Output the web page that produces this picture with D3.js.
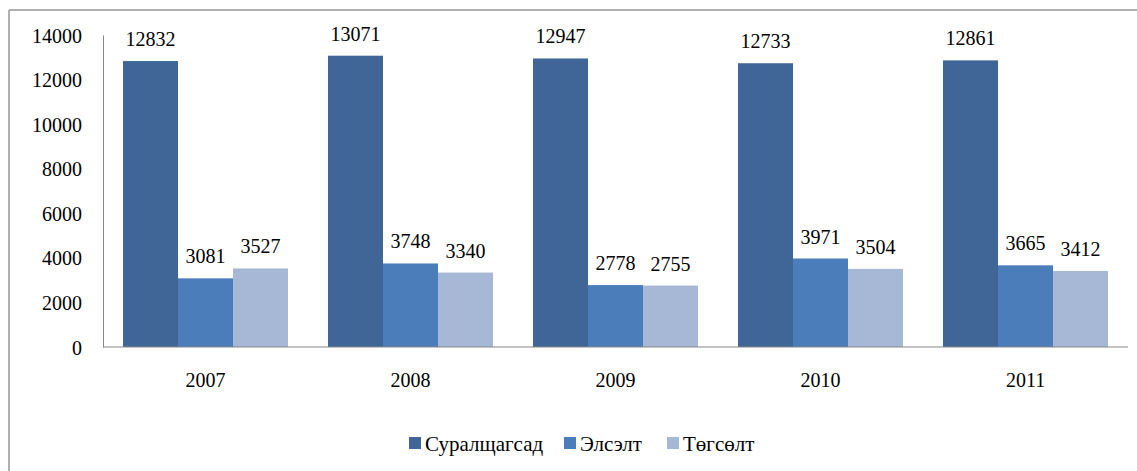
<!DOCTYPE html>
<html>
<head>
<meta charset="utf-8">
<title>chart</title>
<script src="https://cdn.jsdelivr.net/npm/d3@7/dist/d3.min.js"></script>
<style>
body { margin: 0; background: #fff; }
text { font-family: "Liberation Serif", "Times New Roman", serif; fill: #000; }
</style>
</head>
<body>
<svg width="1137" height="471"></svg>
<script>

// data
var years = ["2007", "2008", "2009", "2010", "2011"];
var seriesNames = ["Суралщагсад", "Элсэлт", "Төгсөлт"];
var suralts = [12832, 13071, 12947, 12733, 12861];
var elselt = [3081, 3748, 2778, 3971, 3665];
var tugsult = [3527, 3340, 2755, 3504, 3412];
var yTicks = [0, 2000, 4000, 6000, 8000, 10000, 12000, 14000];
var colors = ["#3f6696", "#4a7dba", "#a6b8d6"];

var svg = d3.select("svg");

// outer frame (only top and left visible, image is cropped)
svg.append("line").attr("x1", 9).attr("y1", 10).attr("x2", 1137).attr("y2", 10)
  .attr("stroke", "#b0b0b0").attr("stroke-width", 2);
svg.append("line").attr("x1", 9).attr("y1", 10).attr("x2", 9).attr("y2", 471)
  .attr("stroke", "#b0b0b0").attr("stroke-width", 2);

var plotLeft = 103, plotRight = 1128, plotTop = 35, plotBottom = 347;

var x = d3.scaleBand().domain(years).range([plotLeft, plotRight]).paddingInner(40 / 205).paddingOuter(20 / 205);
var xs = d3.scaleBand().domain(seriesNames).range([0, x.bandwidth()]);
var y = d3.scaleLinear().domain([0, 14000]).range([plotBottom, plotTop]);

var table = years.map(function(yr, i) {
  return { year: yr, values: [suralts[i], elselt[i], tugsult[i]] };
});

// bars
var groups = svg.selectAll("g.grp").data(table).enter()
  .append("g").attr("class", "grp")
  .attr("transform", function(d) { return "translate(" + x(d.year) + ",0)"; });

groups.selectAll("rect").data(function(d) {
  return d.values.map(function(v, j) { return { name: seriesNames[j], v: v, j: j }; });
}).enter().append("rect")
  .attr("x", function(d) { return xs(d.name); })
  .attr("y", function(d) { return y(d.v); })
  .attr("width", xs.bandwidth())
  .attr("height", function(d) { return y(0) - y(d.v); })
  .attr("fill", function(d) { return colors[d.j]; });

groups.selectAll("text").data(function(d) {
  return d.values.map(function(v, j) { return { name: seriesNames[j], v: v }; });
}).enter().append("text")
  .attr("x", function(d) { return xs(d.name) + xs.bandwidth() / 2; })
  .attr("y", function(d) { return y(d.v) - 15; })
  .attr("text-anchor", "middle")
  .style("font-size", "20px")
  .text(function(d) { return d.v; });

// y axis
var yAxis = d3.axisLeft(y).tickValues(yTicks).tickSize(0).tickPadding(21).tickFormat(d3.format("d"));
var gy = svg.append("g").attr("transform", "translate(" + plotLeft + ",0)").call(yAxis);
gy.select(".domain").attr("stroke", "#888");
gy.selectAll("text").style("font-size", "20px").style("font-family", "Liberation Serif, serif").attr("dy", "0.35em");

// x axis
var xAxis = d3.axisBottom(x).tickSize(0).tickPadding(26);
var gx = svg.append("g").attr("transform", "translate(0," + plotBottom + ")").call(xAxis);
gx.select(".domain").attr("stroke", "#888").attr("d", "M" + plotLeft + ",0H" + plotRight);
gx.selectAll("text").style("font-size", "20px").style("font-family", "Liberation Serif, serif");

// legend
var legendX = [409, 564, 667];
var leg = svg.selectAll("g.leg").data(seriesNames).enter()
  .append("g").attr("class", "leg")
  .attr("transform", function(d, i) { return "translate(" + legendX[i] + ",437)"; });
leg.append("rect").attr("width", 12).attr("height", 12)
  .attr("fill", function(d, i) { return colors[i]; });
leg.append("text").attr("x", 16).attr("y", 14)
  .style("font-size", "21px")
  .style("font-family", "Liberation Serif, serif")
  .text(function(d) { return d; });

</script>
</body>
</html>
